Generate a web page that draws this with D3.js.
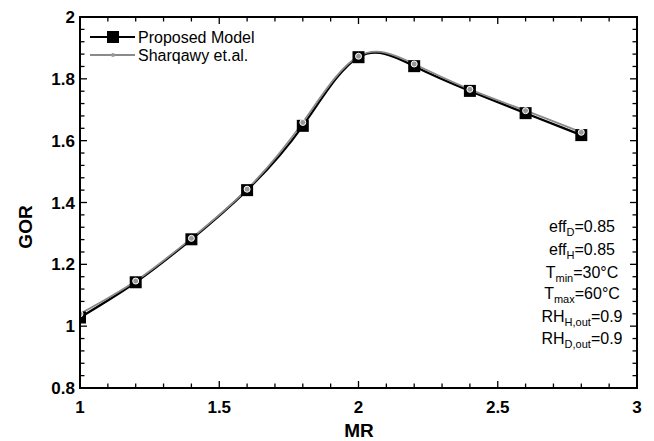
<!DOCTYPE html>
<html><head><meta charset="utf-8">
<script src="https://cdn.jsdelivr.net/npm/d3@7"></script>
<style>body{margin:0;background:#fff}svg{display:block}text{font-family:"Liberation Sans",Arial,sans-serif}</style>
</head><body><svg id="c" width="654" height="441"></svg>
<script>
const mrValues = [1.0, 1.2, 1.4, 1.6, 1.8, 2.0, 2.2, 2.4, 2.6, 2.8];
const proposedModel = [1.028, 1.142, 1.281, 1.440, 1.648, 1.870, 1.841, 1.761, 1.689, 1.618];
const sharqawy = [1.040, 1.146, 1.284, 1.443, 1.659, 1.873, 1.848, 1.766, 1.697, 1.627];
const xTickLabels = [1, 1.5, 2, 2.5, 3];
const yTickLabels = [0.8, 1, 1.2, 1.4, 1.6, 1.8, 2];
const legendLabels = ["Proposed Model", "Sharqawy et.al."];
const annotations = [
  ["eff", "D", "=0.85"], ["eff", "H", "=0.85"], ["T", "min", "=30°C"],
  ["T", "max", "=60°C"], ["RH", "H,out", "=0.9"], ["RH", "D,out", "=0.9"]
];

const svg = d3.select("#c");
const L = 80, R = 637, T = 17, B = 388;
const x = d3.scaleLinear().domain([1, 3]).range([L, R]);
const y = d3.scaleLinear().domain([0.8, 2]).range([B, T]);

svg.append("defs").append("clipPath").attr("id", "clip")
  .append("rect").attr("x", L).attr("y", T).attr("width", R - L).attr("height", B - T);

// minor & major ticks (inward on all sides)
const xMinor = d3.range(1, 3.0001, 0.1).map(v => +v.toFixed(2));
const yMinor = d3.range(0.8, 2.0001, 0.04).map(v => +v.toFixed(2));
const isMajX = v => Math.abs(v * 2 - Math.round(v * 2)) < 1e-6;
const isMajY = v => Math.abs(v * 5 - Math.round(v * 5)) < 1e-6;
const tg = svg.append("g").attr("stroke", "#000").attr("stroke-width", 1.3);
xMinor.forEach(v => {
  const len = isMajX(v) ? 7 : 4.5;
  tg.append("line").attr("x1", x(v)).attr("x2", x(v)).attr("y1", B).attr("y2", B - len);
  tg.append("line").attr("x1", x(v)).attr("x2", x(v)).attr("y1", T).attr("y2", T + len);
});
yMinor.forEach(v => {
  const len = isMajY(v) ? 7 : 4.5;
  tg.append("line").attr("y1", y(v)).attr("y2", y(v)).attr("x1", L).attr("x2", L + len);
  tg.append("line").attr("y1", y(v)).attr("y2", y(v)).attr("x1", R).attr("x2", R - len);
});

// tick labels
svg.append("g").selectAll("text").data(xTickLabels).join("text")
  .attr("x", d => x(d)).attr("y", 413).attr("text-anchor", "middle")
  .attr("font-size", 17).attr("font-weight", "bold").text(d => d);
svg.append("g").selectAll("text").data(yTickLabels).join("text")
  .attr("x", 75).attr("y", d => y(d) + 6).attr("text-anchor", "end")
  .attr("font-size", 17).attr("font-weight", "bold").text(d => d);

// axis titles
svg.append("text").attr("x", 359).attr("y", 437).attr("text-anchor", "middle")
  .attr("font-size", 19).attr("font-weight", "bold").text("MR");
svg.append("text").attr("transform", "translate(32,227) rotate(-90)").attr("text-anchor", "middle")
  .attr("font-size", 19).attr("font-weight", "bold").text("GOR");

// curves
const plot = svg.append("g").attr("clip-path", "url(#clip)");
const line = d3.line().x(d => x(d[0])).y(d => y(d[1])).curve(d3.curveNatural);
const pData = mrValues.map((m, i) => [m, proposedModel[i]]);
const sData = mrValues.map((m, i) => [m, sharqawy[i]]);
plot.append("path").attr("d", line(pData)).attr("fill", "none").attr("stroke", "#000").attr("stroke-width", 2.2);
plot.append("path").attr("d", line(sData)).attr("fill", "none").attr("stroke", "#8a8a8a").attr("stroke-width", 1.8);
plot.selectAll("rect.m").data(pData).join("rect").attr("class", "m")
  .attr("x", d => x(d[0]) - 6).attr("y", d => y(d[1]) - 6).attr("width", 12).attr("height", 12)
  .attr("fill", "#000");
plot.selectAll("circle.m").data(sData).join("circle").attr("class", "m")
  .attr("cx", d => x(d[0])).attr("cy", d => y(d[1])).attr("r", 3)
  .attr("fill", "#999").attr("stroke", "#fff").attr("stroke-width", 1);

// frame
svg.append("rect").attr("x", L).attr("y", T).attr("width", R - L).attr("height", B - T)
  .attr("fill", "none").attr("stroke", "#000").attr("stroke-width", 2);

// legend
const lg = svg.append("g");
lg.append("line").attr("x1", 90).attr("x2", 135).attr("y1", 37).attr("y2", 37).attr("stroke", "#000").attr("stroke-width", 2);
lg.append("rect").attr("x", 107).attr("y", 31).attr("width", 12).attr("height", 12).attr("fill", "#000");
lg.append("line").attr("x1", 90).attr("x2", 135).attr("y1", 55).attr("y2", 55).attr("stroke", "#8a8a8a").attr("stroke-width", 2);
lg.append("circle").attr("cx", 113).attr("cy", 55).attr("r", 2).attr("fill", "#999");
lg.selectAll("text").data(legendLabels).join("text")
  .attr("x", 138).attr("y", (d, i) => 43 + i * 18).attr("font-size", 16).text(d => d);

// annotations
const ag = svg.append("g");
const aY = [232, 255, 278, 299, 322, 344];
annotations.forEach((a, i) => {
  const t = ag.append("text").attr("x", 582).attr("y", aY[i]).attr("text-anchor", "middle").attr("font-size", 16);
  t.append("tspan").text(a[0]);
  t.append("tspan").attr("font-size", 11).attr("dy", 4).text(a[1]);
  t.append("tspan").attr("dy", -4).text(a[2]);
});
</script></body></html>
